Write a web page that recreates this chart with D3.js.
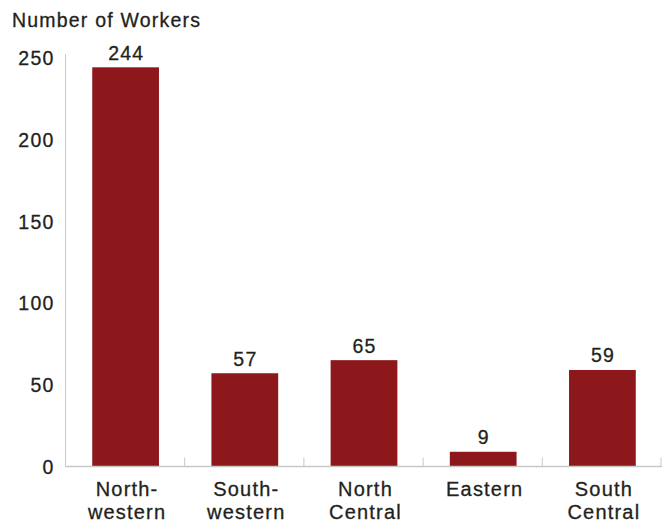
<!DOCTYPE html>
<html>
<head>
<meta charset="utf-8">
<script src="https://cdn.jsdelivr.net/npm/d3@7"></script>
<style>
  html, body { margin: 0; padding: 0; background: #fff; }
  svg { display: block; }
  text { font-family: "Liberation Sans", Arial, sans-serif; fill: #231f20; stroke: #231f20; stroke-width: 0.3px; }
</style>
</head>
<body>
<svg id="chart" width="663" height="523"></svg>
<script>
// Workers by region
const regions = ["North-western", "South-western", "North Central", "Eastern", "South Central"];
const regionLines = [["North-", "western"], ["South-", "western"], ["North", "Central"], ["Eastern"], ["South", "Central"]];
const workers = [244, 57, 65, 9, 59];
const yTicks = [0, 50, 100, 150, 200, 250];
const yTitle = "Number of Workers";

const svg = d3.select("#chart");
const barColor = "#8c181c";
const axisColor = "#c8c8c8";
const fontSize = 19.5;
const spacing = "1.2px";

const plotLeft = 66, plotRight = 662, plotBase = 466.5, plotTop = 57.5;

const x = d3.scaleBand()
  .domain(regions)
  .range([plotLeft, plotRight])
  .paddingInner(0.44)
  .paddingOuter(0.22);

const y = d3.scaleLinear()
  .domain([0, 250])
  .range([plotBase, plotTop]);

// Title
svg.append("text")
  .attr("x", 12)
  .attr("y", 27)
  .style("font-size", fontSize + "px")
  .style("letter-spacing", spacing)
  .text(yTitle);

// Y axis: labels only, with a plain vertical rule
const yAxis = d3.axisLeft(y).tickValues(yTicks).tickSize(0).tickPadding(11);
const gy = svg.append("g").attr("transform", `translate(${plotLeft - 0.5},0)`).call(yAxis);
gy.select(".domain").remove();
gy.selectAll("text")
  .style("font-size", fontSize + "px")
  .style("letter-spacing", spacing)
  .style("font-family", "'Liberation Sans', Arial, sans-serif")
  .attr("fill", "#231f20")
  .attr("dy", "0.36em");
svg.append("line")
  .attr("x1", plotLeft - 0.5).attr("x2", plotLeft - 0.5)
  .attr("y1", y(252)).attr("y2", plotBase)
  .attr("stroke", axisColor).attr("stroke-width", 1);

// Bars
svg.append("g").selectAll("rect")
  .data(regions)
  .join("rect")
  .attr("x", d => x(d))
  .attr("width", x.bandwidth())
  .attr("y", (d, i) => y(workers[i]))
  .attr("height", (d, i) => plotBase - y(workers[i]))
  .attr("fill", barColor);

// X axis rule and separators between categories
svg.append("line")
  .attr("x1", plotLeft - 0.5).attr("x2", plotRight)
  .attr("y1", plotBase).attr("y2", plotBase)
  .attr("stroke", axisColor).attr("stroke-width", 1.5);
const step = x.step();
const seps = d3.range(1, regions.length + 1).map(i => plotLeft + i * step - 0.5);
svg.append("g").selectAll("line")
  .data(seps)
  .join("line")
  .attr("x1", d => Math.min(d, plotRight - 1)).attr("x2", d => Math.min(d, plotRight - 1))
  .attr("y1", plotBase - 9).attr("y2", plotBase)
  .attr("stroke", axisColor).attr("stroke-width", 1);

// Value labels
svg.append("g").selectAll("text")
  .data(regions)
  .join("text")
  .attr("x", d => x(d) + x.bandwidth() / 2 + 0.6)
  .attr("y", (d, i) => y(workers[i]) - 7.5)
  .attr("text-anchor", "middle")
  .style("font-size", fontSize + "px")
  .style("letter-spacing", spacing)
  .text((d, i) => workers[i]);

// Category labels
const cat = svg.append("g").selectAll("text")
  .data(regions)
  .join("text")
  .attr("text-anchor", "middle")
  .style("font-size", "20px")
  .style("letter-spacing", spacing);
cat.each(function(d, i) {
  const t = d3.select(this);
  regionLines[i].forEach((line, j) => {
    t.append("tspan")
      .attr("x", x(d) + x.bandwidth() / 2 + 1.5)
      .attr("y", 496 + j * 23)
      .text(line);
  });
});
</script>
</body>
</html>
